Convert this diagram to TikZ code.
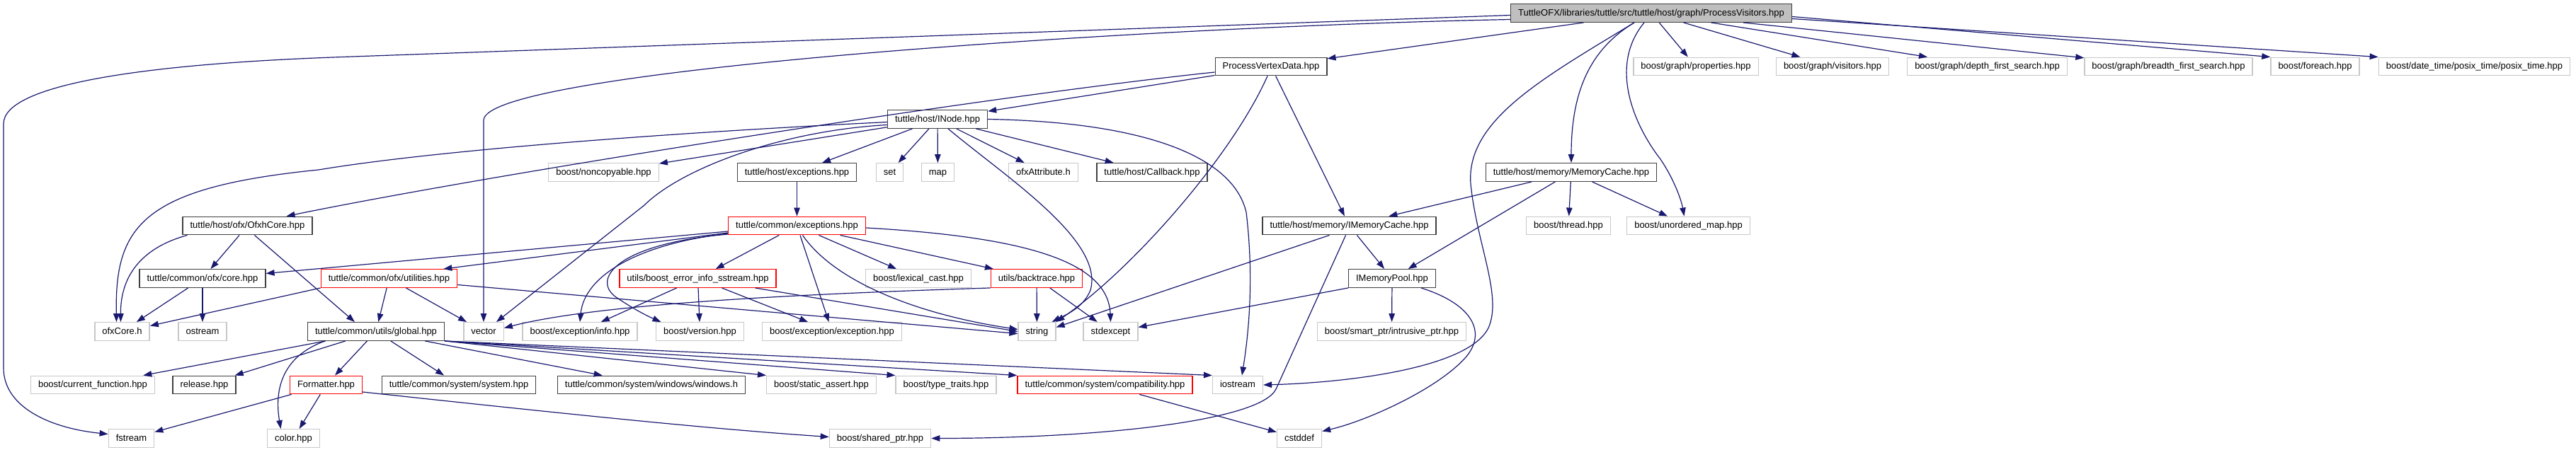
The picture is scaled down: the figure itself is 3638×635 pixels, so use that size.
\documentclass[tikz,border=0pt]{standalone}
\usepackage{fontspec}
\setmainfont{Liberation Sans}
\usepackage{tikz}
\usetikzlibrary{arrows.meta}
\definecolor{dxNavy} {RGB}{ 25, 25,112}
\definecolor{dxFrame}{RGB}{ 64, 64, 64}
\definecolor{dxFill} {RGB}{191,191,191}
\definecolor{dxLight}{RGB}{200,200,200}
\definecolor{dxRed}  {RGB}{255,  0,  0}

\begin{document}
\begin{tikzpicture}[
  x=1pt,y=-1pt,
  every node/.style={font=\fontsize{13}{15}\selectfont},
  >={Triangle[length=12pt,width=8.5pt]},
  hdr/.style={draw,line width=1.4pt,minimum height=25.5pt,inner xsep=10.5pt,
              inner ysep=0pt,text height=9.5pt,text depth=2.5pt},
  ext/.style={hdr,draw=dxLight},
  doc/.style={hdr,draw=dxFrame},
  trunc/.style={hdr,draw=dxRed},
  rootbox/.style={doc,fill=dxFill},
  dep/.style={->,dxNavy,line width=1.2pt}
]
\useasboundingbox (0,0) rectangle (3638,635);

\node[rootbox] (root)     at (2332,  18.5) {TuttleOFX/libraries/tuttle/src/tuttle/host/graph/ProcessVisitors.hpp};
\node[doc]     (pvd)      at (1795,  94)   {ProcessVertexData.hpp};
\node[ext]     (props)    at (2395,  94)   {boost/graph/properties.hpp};
\node[ext]     (visit)    at (2588,  94)   {boost/graph/visitors.hpp};
\node[ext]     (dfs)      at (2806.5,94)   {boost/graph/depth\_first\_search.hpp};
\node[ext]     (bfs)      at (3062.5,94)   {boost/graph/breadth\_first\_search.hpp};
\node[ext]     (foreach)  at (3269.5,94)   {boost/foreach.hpp};
\node[ext]     (posix)    at (3494.5,94)   {boost/date\_time/posix\_time/posix\_time.hpp};
\node[doc]     (inode)    at (1324, 168.5) {tuttle/host/INode.hpp};
\node[ext]     (noncopy)  at ( 852.5,243.5) {boost/noncopyable.hpp};
\node[doc]     (hexc)     at (1125.5,243.5) {tuttle/host/exceptions.hpp};
\node[ext]     (setH)     at (1256.5,243.5) {set};
\node[ext]     (mapH)     at (1324.5,243.5) {map};
\node[ext]     (ofxattr)  at (1473.5,243.5) {ofxAttribute.h};
\node[doc]     (callback) at (1627, 243.5) {tuttle/host/Callback.hpp};
\node[doc]     (memcache) at (2219, 243.5) {tuttle/host/memory/MemoryCache.hpp};
\node[doc]     (ofxh)     at ( 349.5,319)  {tuttle/host/ofx/OfxhCore.hpp};
\node[trunc]   (cexc)     at (1125.5,319)  {tuttle/common/exceptions.hpp};
\node[doc]     (imemcache) at (1905.5,319) {tuttle/host/memory/IMemoryCache.hpp};
\node[ext]     (thread)   at (2215, 319)   {boost/thread.hpp};
\node[ext]     (umap)     at (2384.5,319)  {boost/unordered\_map.hpp};
\node[doc]     (ofxcore)  at ( 286, 393.5) {tuttle/common/ofx/core.hpp};
\node[trunc]   (utils)    at ( 549.5,393.5) {tuttle/common/ofx/utilities.hpp};
\node[trunc]   (beis)     at ( 985.5,393.5) {utils/boost\_error\_info\_sstream.hpp};
\node[ext]     (lexcast)  at (1297, 393.5) {boost/lexical\_cast.hpp};
\node[trunc]   (backtr)   at (1464, 393.5) {utils/backtrace.hpp};
\node[doc]     (mempool)  at (1966, 393.5) {IMemoryPool.hpp};
\node[ext]     (ofxcoreh) at ( 172.5,468.5) {ofxCore.h};
\node[ext]     (ostreamH) at ( 286, 468.5) {ostream};
\node[doc]     (global)   at ( 531, 468.5) {tuttle/common/utils/global.hpp};
\node[ext]     (vecH)     at ( 683, 468.5) {vector};
\node[ext]     (exinfo)   at ( 819, 468.5) {boost/exception/info.hpp};
\node[ext]     (version)  at ( 988.5,468.5) {boost/version.hpp};
\node[ext]     (exexc)    at (1175, 468.5) {boost/exception/exception.hpp};
\node[ext]     (strH)     at (1464.5,468.5) {string};
\node[ext]     (stdexc)   at (1568.5,468.5) {stdexcept};
\node[ext]     (intrus)   at (1965.5,468.5) {boost/smart\_ptr/intrusive\_ptr.hpp};
\node[ext]     (curfunc)  at ( 131, 544)   {boost/current\_function.hpp};
\node[doc]     (release)  at ( 288.5,544)  {release.hpp};
\node[trunc]   (format)   at ( 460.5,544)  {Formatter.hpp};
\node[doc]     (sysH)     at ( 648, 544)   {tuttle/common/system/system.hpp};
\node[doc]     (winH)     at ( 920, 544)   {tuttle/common/system/windows/windows.h};
\node[ext]     (sassert)  at (1160, 544)   {boost/static\_assert.hpp};
\node[ext]     (traits)   at (1336, 544)   {boost/type\_traits.hpp};
\node[trunc]   (compat)   at (1560.5,544)  {tuttle/common/system/compatibility.hpp};
\node[ext]     (ioH)      at (1748, 544)   {iostream};
\node[ext]     (fstreamH) at ( 185.5,619.5) {fstream};
\node[ext]     (colorH)   at ( 414.5,619.5) {color.hpp};
\node[ext]     (shptr)    at (1243, 619.5) {boost/shared\_ptr.hpp};
\node[ext]     (cstddefH) at (1835, 619.5) {cstddef};

\draw[dep] ([yshift=-3pt]root.west) -- (470,81) .. controls (200,91) and (5,120) .. (5,175) -- (5,520)
           .. controls (5,575) and (70,605) .. ([yshift=6pt]fstreamH.west);
\draw[dep] ([yshift=-9pt]root.west) .. controls (1600,38) and (683,100) .. (683,170) -- (vecH.north);
\draw[dep] (root) -- (pvd);
\draw[dep] ([xshift=-24pt]root.south) .. controls (2180,110) and (2070,170) .. (2077,260)
           .. controls (2085,340) and (2118,410) .. (2105,455) .. controls (2090,520) and (1900,541) .. (ioH.east);
\draw[dep] ([xshift=-24pt]root.south) .. controls (2245,70) and (2219,130) .. (memcache.north);
\draw[dep] ([xshift=-10pt]root.south) .. controls (2270,95) and (2310,180) .. (2345,225)
           .. controls (2362,250) and (2374,280) .. ([xshift=-6pt]umap.north);
\draw[dep] (root) -- (props);
\draw[dep] (root) -- (visit);
\draw[dep] (root) -- (dfs);
\draw[dep] (root) -- (bfs);
\draw[dep] ([yshift=-5pt]root.east) -- (foreach.north west);
\draw[dep] ([yshift=-8pt]root.east) -- (posix.north west);

\draw[dep] (pvd) -- (inode);
\draw[dep] ([yshift=-8pt]pvd.west) .. controls (1400,135) and (700,245) .. ([xshift=55pt]ofxh.north);
\draw[dep] ([xshift=-5pt]pvd.south) .. controls (1740,220) and (1600,380) .. (strH.north east);
\draw[dep] (pvd) -- (imemcache);

\draw[dep] ([yshift=-4pt]inode.west) .. controls (900,190) and (600,215) .. (450,240)
           .. controls (200,265) and (162,320) .. ([xshift=-8pt]ofxcoreh.north);
\draw[dep] ([yshift=-8pt]inode.west) .. controls (1100,185) and (960,240) .. (910,290) -- ([xshift=18pt]vecH.north);
\draw[dep] (inode) -- (noncopy);
\draw[dep] (inode) -- (hexc);
\draw[dep] (inode) -- (setH);
\draw[dep] (inode) -- (mapH);
\draw[dep] (inode) -- (ofxattr);
\draw[dep] (inode) -- (callback);
\draw[dep] ([xshift=15pt]inode.south) .. controls (1420,250) and (1560,340) .. (1540,410)
           .. controls (1530,435) and (1505,445) .. ([xshift=-6pt]strH.north east);
\draw[dep] (inode.east) .. controls (1600,172) and (1740,215) .. (1760,300)
           .. controls (1772,400) and (1762,480) .. ([xshift=6pt]ioH.north);

\draw[dep] (hexc) -- (cexc);

\draw[dep] (cexc) -- (beis);
\draw[dep] (cexc) -- (lexcast);
\draw[dep] (cexc) -- (backtr);
\draw[dep] (cexc) -- (exexc);
\draw[dep] ([xshift=8pt]cexc.south) .. controls (1180,400) and (1300,445) .. ([yshift=3pt]strH.west);
\draw[dep] ([yshift=-3pt]cexc.east) .. controls (1450,335) and (1565,370) .. (stdexc.north);
\draw[dep] ([yshift=-8pt]cexc.west) -- ([yshift=7pt]ofxcore.east);
\draw[dep] ([yshift=-10pt]cexc.west) -- ([xshift=-20pt]utils.north east);
\draw[dep] ([yshift=-11pt]cexc.west) .. controls (900,345) and (825,390) .. (exinfo.north);
\draw[dep] ([yshift=-12pt]cexc.west) .. controls (870,345) and (835,395) .. (870,420)
           .. controls (895,437) and (915,447) .. ([xshift=-55pt]version.north);

\draw[dep] (beis) -- (exinfo);
\draw[dep] (beis) -- (version);
\draw[dep] (beis) -- (exexc);
\draw[dep] (beis) -- (strH.west);

\draw[dep] (backtr.south west) .. controls (1150,415) and (850,428) .. ([yshift=5pt]vecH.east);
\draw[dep] (backtr) -- (strH);
\draw[dep] (backtr) -- (stdexc);

\draw[dep] (utils.south west) -- ([yshift=8pt]ofxcoreh.east);
\draw[dep] (utils) -- (global);
\draw[dep] (utils) -- (vecH);
\draw[dep] ([yshift=-9pt]utils.east) -- ([yshift=-3pt]strH.west);

\draw[dep] ([xshift=-85pt]ofxh.south) .. controls (200,350) and (170,390) .. ([xshift=-2pt]ofxcoreh.north);
\draw[dep] (ofxh) -- (ofxcore);
\draw[dep] ([xshift=10pt]ofxh.south) -- ([xshift=-30pt]global.north);

\draw[dep] (ofxcore) -- (ofxcoreh);
\draw[dep] (ofxcore) -- (ostreamH);

\draw[dep] (global) -- (curfunc);
\draw[dep] (global) -- (release);
\draw[dep] ([xshift=-72pt]global.south) .. controls (395,505) and (388,555) .. ([xshift=-18pt]colorH.north);
\draw[dep] (global) -- (format);
\draw[dep] (global) -- (sysH);
\draw[dep] (global) -- (winH);
\draw[dep] (global.south east) -- (sassert.north west);
\draw[dep] (global.south east) -- (traits.north west);
\draw[dep] (global.south east) -- (compat.north west);
\draw[dep] (global.south east) -- (ioH.north west);

\draw[dep] (format) -- (fstreamH);
\draw[dep] (format) -- (colorH);
\draw[dep] ([yshift=-10pt]format.east) .. controls (800,585) and (1000,606) .. ([yshift=2pt]shptr.west);

\draw[dep] (compat) -- (cstddefH);

\draw[dep] (imemcache) -- (mempool);
\draw[dep] ([xshift=-28pt]imemcache.south) -- ([yshift=6pt]strH.east);
\draw[dep] ([xshift=-5pt]imemcache.south) -- (1802,550) .. controls (1780,595) and (1550,619.5) .. (shptr.east);

\draw[dep] (memcache) -- (imemcache);
\draw[dep] (memcache) -- (mempool);
\draw[dep] (memcache) -- (thread);
\draw[dep] (memcache) -- (umap);

\draw[dep] (mempool) -- (intrus);
\draw[dep] (mempool.south west) -- ([yshift=6pt]stdexc.east);
\draw[dep] ([xshift=41pt]mempool.south) .. controls (2080,430) and (2100,470) .. (2070,505)
           .. controls (2030,550) and (1930,595) .. ([yshift=10pt]cstddefH.east);
\end{tikzpicture}
\end{document}
